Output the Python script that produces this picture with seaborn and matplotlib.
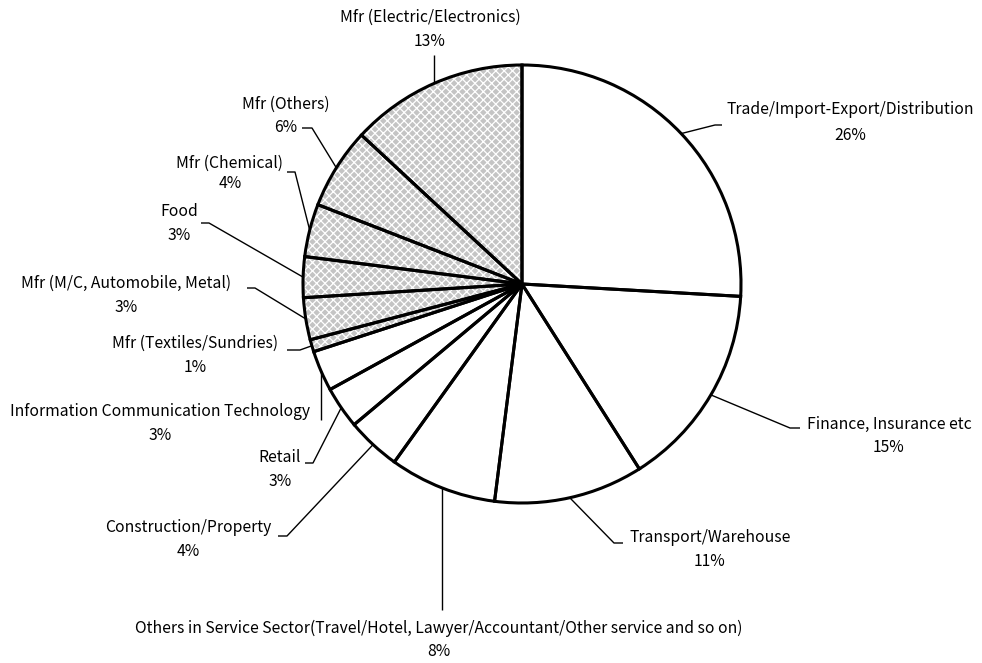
import numpy as np
import matplotlib
matplotlib.use("Agg")
import matplotlib.pyplot as plt
import seaborn as sns

# ---- data ----
categories = [
    "Trade/Import-Export/Distribution",
    "Finance, Insurance etc",
    "Transport/Warehouse",
    "Others in Service Sector(Travel/Hotel, Lawyer/Accountant/Other service and so on)",
    "Construction/Property",
    "Retail",
    "Information Communication Technology",
    "Mfr (Textiles/Sundries)",
    "Mfr (M/C, Automobile, Metal)",
    "Food",
    "Mfr (Chemical)",
    "Mfr (Others)",
    "Mfr (Electric/Electronics)",
]
shares = [25.9, 15.1, 11.0, 7.9, 4.0, 3.1, 3.0, 0.9, 3.1, 3.0, 3.9, 6.0, 13.1]
pct_labels = ["26%", "15%", "11%", "8%", "4%", "3%", "3%", "1%", "3%", "3%", "4%", "6%", "13%"]
is_mfr = [False, False, False, False, False, False, False, True, True, True, True, True, True]

# ---- layout (pixel coordinates, y from top) ----
W, H = 982, 663
CX, CY, R = 522, 284, 219
# name text centre x, name y, pct y
label_pos = [
    (850, 110, 135), (889, 424, 447), (710, 538, 562), (439, 628, 652),
    (188, 528, 551), (280, 458, 482), (160, 412, 436), (195, 343, 368),
    (126, 283, 307), (179, 212, 236), (230, 163, 184), (286, 104, 128),
    (430, 17, 42),
]
# leader elbow and end points (None x -> vertical from arc point)
elbows = [
    ((715, 125), (722, 125)), ((790, 428), (800, 428)), ((614, 543), (623, 543)),
    ((None, 610), None), ((287, 536), (278, 536)), ((313, 463), (305, 463)),
    ((None, 420), None), ((300, 350), (287, 350)), ((255, 288), (247, 288)),
    ((209, 223), (201, 223)), ((295, 172), (287, 172)), ((312, 128), (302, 128)),
    ((None, 55), None),
]

sns.set_theme(style="white")
plt.rcParams["font.family"] = ["Noto Sans CJK JP", "DejaVu Sans"]
plt.rcParams["hatch.linewidth"] = 0.9

fig = plt.figure(figsize=(W / 100, H / 100), dpi=100)
ax = fig.add_axes([0, 0, 1, 1])

def fy(y):
    return H - y

explode = [0.008] + [0] * (len(shares) - 1)
fills = ["#c4c4c4" if m else "white" for m in is_mfr]
hatches = ["xxxx" if m else "" for m in is_mfr]
# fill layer: white edge colour makes the hatch white
ax.pie(
    shares, startangle=90, counterclock=False, center=(CX, fy(CY)), radius=R,
    explode=explode, colors=fills, hatch=hatches,
    wedgeprops=dict(edgecolor="white", linewidth=0),
)
# outline layer
wedges, _ = ax.pie(
    shares, startangle=90, counterclock=False, center=(CX, fy(CY)), radius=R,
    explode=explode,
    wedgeprops=dict(facecolor="none", edgecolor="black", linewidth=2.2),
)
ax.set_xlim(0, W)
ax.set_ylim(0, H)
ax.set_aspect("equal")
ax.axis("off")

fs = 11.3
for w, name, pct, (tx, ny, py), (el, en) in zip(wedges, categories, pct_labels, label_pos, elbows):
    mid = np.deg2rad((w.theta1 + w.theta2) / 2)
    ax_x = CX + R * np.cos(mid)
    ax_y = fy(CY) + R * np.sin(mid)
    if el[0] is None:
        xs = [ax_x, ax_x]
        ys = [ax_y, fy(el[1])]
    else:
        xs = [ax_x, el[0], en[0]]
        ys = [ax_y, fy(el[1]), fy(en[1])]
    ax.plot(xs, ys, color="black", lw=1.0, solid_capstyle="butt")
    ax.text(tx, fy(ny), name, ha="center", va="center", fontsize=fs, color="black")
    ax.text(tx, fy(py), pct, ha="center", va="center", fontsize=fs, color="black")

fig.savefig("out.png", dpi=100, facecolor="white")
